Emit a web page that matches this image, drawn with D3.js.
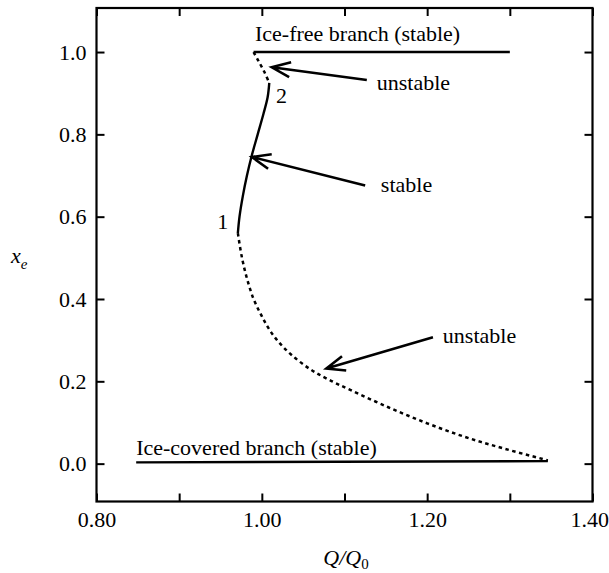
<!DOCTYPE html>
<html>
<head>
<meta charset="utf-8">
<script src="https://cdn.jsdelivr.net/npm/d3@7"></script>
<style>
  html, body { margin: 0; padding: 0; background: #fff; }
  svg { display: block; }
</style>
</head>
<body>
<svg id="chart" width="609" height="573"></svg>
<script>
// ---- data (Q/Q0, x_e) ----
const xTicks = [0.8, 0.9, 1.0, 1.1, 1.2, 1.3, 1.4];
const xTickLabels = [0.8, 1.0, 1.2, 1.4];
const yTicks = [0.0, 0.2, 0.4, 0.6, 0.8, 1.0];

const iceFreeQ  = [0.990, 1.300];
const iceFreeXe = [1.0, 1.0];

const iceCoveredQ  = [0.848, 1.346];
const iceCoveredXe = [0.003, 0.006];

const unstableUpperQ  = [0.990, 0.996, 1.003, 1.009];
const unstableUpperXe = [1.000, 0.978, 0.952, 0.925];

const stableQ  = [1.009, 1.007, 1.002, 0.995, 0.988, 0.982, 0.977, 0.973, 0.971];
const stableXe = [0.925, 0.890, 0.850, 0.800, 0.750, 0.700, 0.650, 0.600, 0.560];

const unstableLowerQ  = [0.971, 0.976, 0.982, 0.990, 0.999, 1.009, 1.021, 1.036, 1.058, 1.080, 1.107, 1.153, 1.200, 1.247, 1.294, 1.346];
const unstableLowerXe = [0.560, 0.500, 0.450, 0.400, 0.362, 0.326, 0.294, 0.264, 0.230, 0.205, 0.179, 0.137, 0.098, 0.064, 0.036, 0.008];

// annotation arrows: [tailQ, tailXe, tipQ, tipXe]
const arrows = [
  [1.127, 0.932, 1.012, 0.963],
  [1.125, 0.676, 0.988, 0.745],
  [1.207, 0.307, 1.078, 0.231]
];
// annotation texts: [label, Q, Xe]
const notes = [
  ["Ice-free branch (stable)", 0.9917, 1.027],
  ["Ice-covered branch (stable)", 0.848, 0.022],
  ["unstable", 1.139, 0.908],
  ["stable", 1.144, 0.659],
  ["unstable", 1.219, 0.293],
  ["1", 0.946, 0.569],
  ["2", 1.017, 0.876]
];

// ---- layout ----
const FONT = '"Liberation Serif", Tinos, "Times New Roman", Times, "Nimbus Roman", "DejaVu Serif", serif';
const svg = d3.select("#chart");
const x = d3.scaleLinear().domain([0.8, 1.4]).range([96.5, 592.5]);
const y = d3.scaleLinear().domain([-0.092, 1.107]).range([501.5, 8]);
const x0 = x.range()[0], x1 = x.range()[1];
const yb = y.range()[0], yt = y.range()[1];

const fs = 22;

// frame
svg.append("rect")
  .attr("x", x0).attr("y", yt)
  .attr("width", x1 - x0).attr("height", yb - yt)
  .attr("fill", "none").attr("stroke", "#000").attr("stroke-width", 2.2);

// axes
function styleAxis(g) {
  g.attr("font-family", FONT).attr("font-size", fs);
  g.select(".domain").remove();
  g.selectAll(".tick line").attr("stroke", "#000").attr("stroke-width", 2);
  g.selectAll(".tick text").attr("font-family", FONT).attr("font-size", fs).attr("fill", "#000");
}
const gBottom = svg.append("g").attr("transform", `translate(0,${yb})`)
  .call(d3.axisBottom(x).tickValues(xTicks).tickSize(-8).tickPadding(9.5)
    .tickFormat(d => xTickLabels.some(v => Math.abs(v - d) < 1e-9) ? d3.format(".2f")(d) : ""));
styleAxis(gBottom);
// keep the last label inside the window, as in the reference
gBottom.selectAll(".tick text").filter(d => Math.abs(d - 1.4) < 1e-9)
  .attr("text-anchor", "end").attr("x", 16);
const gTop = svg.append("g").attr("transform", `translate(0,${yt})`)
  .call(d3.axisTop(x).tickValues(xTicks).tickSize(-8).tickFormat(""));
styleAxis(gTop);
const gLeft = svg.append("g").attr("transform", `translate(${x0},0)`)
  .call(d3.axisLeft(y).tickValues(yTicks).tickSize(-8).tickPadding(10).tickFormat(d3.format(".1f")));
styleAxis(gLeft);
const gRight = svg.append("g").attr("transform", `translate(${x1},0)`)
  .call(d3.axisRight(y).tickValues(yTicks).tickSize(-8).tickFormat(""));
styleAxis(gRight);

// axis titles
const xt = svg.append("text").attr("x", 346).attr("y", 565).attr("text-anchor", "middle")
  .attr("font-family", FONT).attr("font-size", 22).attr("font-style", "italic");
xt.append("tspan").text("Q/Q");
xt.append("tspan").attr("dy", 4).attr("font-size", 15).attr("font-style", "normal").text("0");

const ytl = svg.append("text").attr("x", 11).attr("y", 263)
  .attr("font-family", FONT).attr("font-size", 22).attr("font-style", "italic");
ytl.append("tspan").text("x");
ytl.append("tspan").attr("dy", 6).attr("font-size", 15).text("e");

// curves
const zip = (a, b) => a.map((v, i) => [v, b[i]]);
const line = d3.line().x(d => x(d[0])).y(d => y(d[1])).curve(d3.curveCatmullRom.alpha(0.5));

function draw(pts, dashed) {
  svg.append("path").datum(pts).attr("d", line)
    .attr("fill", "none").attr("stroke", "#000")
    .attr("stroke-width", dashed ? 2.5 : 2.4)
    .attr("stroke-dasharray", dashed ? "3.5,3.5" : null);
}
draw(zip(iceFreeQ, iceFreeXe), false);
draw(zip(iceCoveredQ, iceCoveredXe), false);
draw(zip(unstableUpperQ, unstableUpperXe), true);
draw(zip(stableQ, stableXe), false);
draw(zip(unstableLowerQ, unstableLowerXe), true);

// arrows
arrows.forEach(a => {
  const tx = x(a[0]), ty = y(a[1]), hx = x(a[2]), hy = y(a[3]);
  const ang = Math.atan2(ty - hy, tx - hx);
  const L = 20, h = 22 * Math.PI / 180;
  const b1 = [hx + L * Math.cos(ang - h), hy + L * Math.sin(ang - h)];
  const b2 = [hx + L * Math.cos(ang + h), hy + L * Math.sin(ang + h)];
  svg.append("path")
    .attr("d", `M${tx},${ty}L${hx},${hy}M${b1[0]},${b1[1]}L${hx},${hy}L${b2[0]},${b2[1]}`)
    .attr("fill", "none").attr("stroke", "#000").attr("stroke-width", 2.6)
    .attr("stroke-linejoin", "miter");
});

// notes
notes.forEach(n => {
  svg.append("text").attr("x", x(n[1])).attr("y", y(n[2]))
    .attr("font-family", FONT).attr("font-size", fs).attr("fill", "#000").text(n[0]);
});
</script>
</body>
</html>
